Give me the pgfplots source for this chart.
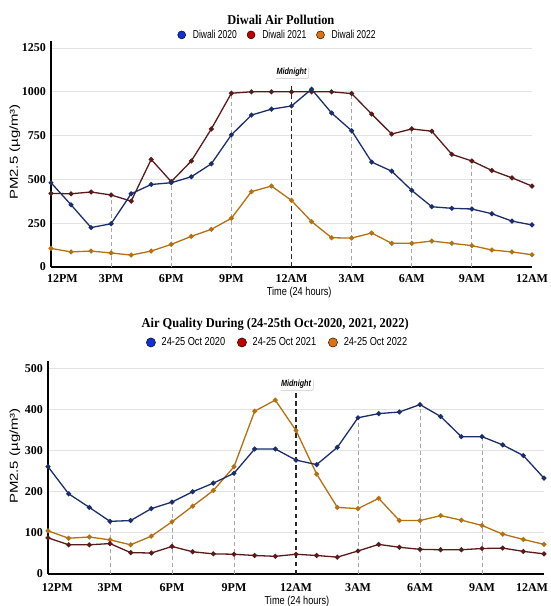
\documentclass[border=0pt]{standalone}
\usepackage{pgfplots}
\pgfplotsset{compat=1.18}
\usepackage{fontspec}
\usetikzlibrary{shadows}
\setmainfont{Liberation Serif}
\newfontfamily\titfont{Liberation Serif}[FakeStretch=0.92]
\newfontfamily\legfont{Liberation Sans}[FakeStretch=0.74]
\newfontfamily\legfontb{Liberation Sans}[FakeStretch=0.8]
\newfontfamily\ylfont{Liberation Sans}[FakeStretch=1.3]
\newfontfamily\xlfont{Liberation Sans}[FakeStretch=0.8]
\newfontfamily\midfont{Liberation Sans}[FakeStretch=0.8]

\definecolor{c20}{HTML}{1C2D6B}
\definecolor{c21}{HTML}{5B1A1A}
\definecolor{c22}{HTML}{B5700F}
\definecolor{l20}{HTML}{1030D0}
\definecolor{l21}{HTML}{C00000}
\definecolor{l22}{HTML}{E07010}
\definecolor{gridc}{HTML}{E3E3E3}
\definecolor{dropc}{HTML}{A8A8A8}

\tikzset{
  midbox/.style={fill=white, rounded corners=1.5pt, inner sep=2pt,
    drop shadow={opacity=0.35, shadow xshift=0.6pt, shadow yshift=-0.6pt},
    font=\midfont\fontsize{9}{9}\selectfont\bfseries\itshape},
}
\pgfplotsset{
  common/.style={
    scale only axis,
    xmin=0, xmax=24, ymin=0,
    axis lines*=left,
    axis line style={line width=1.6pt, black},
    ymajorgrids,
    grid style={gridc, line width=0.9pt},
    major tick length=0pt,
    xtick={0,3,...,24},
    tick label style={font=\fontsize{12}{12}\selectfont\bfseries},
    /pgf/number format/assume math mode=true,
    /pgf/number format/1000 sep={},
    yticklabel style={xshift=-1.5pt},
    clip=false,
    legend columns=3,
    xlabel={Time (24 hours)},
    ylabel={PM2.5 (µg/m³)},
    xlabel style={font=\xlfont\fontsize{11.5}{11.5}\selectfont, anchor=center},
    ylabel style={font=\ylfont\fontsize{11.5}{11.5}\selectfont, anchor=center},
  },
  ser/.style={line width=1.3pt, mark=*, mark size=1.8pt, color=#1, forget plot},
  drop/.style={ycomb, dropc, line width=0.8pt, dash pattern=on 4pt off 3pt, mark=none, forget plot},
  mid/.style={ycomb, black!85, line width=1.3pt, dash pattern=on 4.5pt off 3.5pt, mark=none, forget plot},
}

\begin{document}
\begin{tikzpicture}
\useasboundingbox (0pt,0pt) rectangle (550pt,606pt);

% ---------------- Top chart ----------------
\begin{axis}[common,
  at={(51pt,339pt)}, anchor=south west,
  width=481pt, height=226pt,
  ymax=1290,
  ytick={0,250,...,1250},
  xticklabels={\makebox[0pt][l]{\hspace*{-4pt}12PM},3PM,6PM,9PM,12AM,3AM,6AM,9AM,12AM},
  xticklabel style={yshift=-4pt},
  title={Diwali Air Pollution},
  title style={at={(axis description cs:0.478,1.068)}, anchor=center, yshift=0pt,
    font=\titfont\fontsize{13.5}{13.5}\selectfont\bfseries},
  xlabel style={at={(axis description cs:0.516,-0.113)}},
  ylabel style={at={(axis description cs:-0.075,0.509)}},
  legend style={at={(axis description cs:0.47,1.027)}, anchor=center, draw=none, fill=none,
    font=\legfont\fontsize{11.5}{11.5}\selectfont, inner sep=0pt,
    nodes={inner sep=1pt},
    /tikz/every odd column/.append style={column sep=6pt},
    /tikz/every even column/.append style={column sep=9pt}},
  legend image code/.code={\fill[#1] (0pt,0pt) circle (4pt);},
]
\addplot[drop] coordinates {(3,411) (6,487) (9,992) (15,990) (18,788) (21,605)};
\addplot[mid] coordinates {(12,1050)};
\node[midbox] at (axis cs:12,1113) {Midnight};

\addplot[ser=c22] coordinates {
(0,106) (1,86) (2,91) (3,80) (4,68) (5,91) (6,129) (7,175) (8,215) (9,278) (10,430) (11,462) (12,380)
(13,259) (14,167) (15,165) (16,194) (17,135) (18,135) (19,148) (20,135) (21,122) (22,97) (23,86) (24,70)};
\addplot[ser=c21] coordinates {
(0,420) (1,418) (2,428) (3,411) (4,376) (5,614) (6,487) (7,605) (8,788) (9,992) (10,1000) (11,1000) (12,1000)
(13,1000) (14,1000) (15,990) (16,873) (17,759) (18,788) (19,775) (20,643) (21,605) (22,551) (23,509) (24,462)};
\addplot[ser=c20] coordinates {
(0,481) (1,355) (2,225) (3,247) (4,418) (5,471) (6,481) (7,515) (8,589) (9,754) (10,867) (11,901) (12,919)
(13,1015) (14,879) (15,778) (16,599) (17,547) (18,437) (19,344) (20,335) (21,331) (22,304) (23,262) (24,240)};

\addlegendimage{fill=l20}\addlegendentry{Diwali 2020}
\addlegendimage{fill=l21}\addlegendentry{Diwali 2021}
\addlegendimage{fill=l22}\addlegendentry{Diwali 2022}
\end{axis}

% ---------------- Bottom chart ----------------
\begin{axis}[common,
  at={(48pt,32pt)}, anchor=south west,
  width=496pt, height=213pt,
  ymax=518,
  ytick={0,100,...,500},
  xticklabels={\makebox[0pt][l]{\hspace*{-6pt}12PM},3PM,6PM,9PM,12AM,3AM,6AM,9AM,\makebox[0pt][r]{12AM\hspace*{-4pt}}},
  xticklabel style={yshift=-6pt},
  title={Air Quality During (24-25th Oct-2020, 2021, 2022)},
  title style={at={(axis description cs:0.458,1.146)}, anchor=center, yshift=0pt,
    font=\titfont\fontsize{13.5}{13.5}\selectfont\bfseries},
  xlabel style={at={(axis description cs:0.502,-0.1285)}},
  ylabel style={at={(axis description cs:-0.0665,0.554)}},
  legend style={at={(axis description cs:0.462,1.087)}, anchor=center, draw=none, fill=none,
    font=\legfontb\fontsize{11.5}{11.5}\selectfont, inner sep=0pt,
    nodes={inner sep=1pt},
    /tikz/every odd column/.append style={column sep=5pt},
    /tikz/every even column/.append style={column sep=11pt}},
  legend image code/.code={\fill[#1] (0pt,0pt) circle (4.6pt);},
]
\addplot[drop] coordinates {(3,128) (6,175) (9,261) (15,380) (18,412) (21,334)};
\addplot[mid] coordinates {(12,440)};
\node[midbox] at (axis cs:12,462) {Midnight};

\addplot[ser=c22] coordinates {
(0,105) (1,87) (2,90) (3,83) (4,71) (5,92) (6,127) (7,165) (8,203) (9,261) (10,396) (11,423) (12,349)
(13,243) (14,162) (15,159) (16,184) (17,130) (18,130) (19,142) (20,131) (21,118) (22,97) (23,84) (24,72)};
\addplot[ser=c21] coordinates {
(0,88) (1,71) (2,71) (3,74) (4,52) (5,51) (6,67) (7,54) (8,49) (9,48) (10,45) (11,43) (12,48)
(13,45) (14,41) (15,56) (16,72) (17,65) (18,60) (19,59) (20,59) (21,62) (22,63) (23,55) (24,49)};
\addplot[ser=c20] coordinates {
(0,261) (1,195) (2,162) (3,128) (4,130) (5,159) (6,175) (7,200) (8,221) (9,245) (10,304) (11,304) (12,277)
(13,266) (14,308) (15,380) (16,390) (17,394) (18,412) (19,383) (20,334) (21,334) (22,314) (23,288) (24,233)};

\addlegendimage{fill=l20}\addlegendentry{24-25 Oct 2020}
\addlegendimage{fill=l21}\addlegendentry{24-25 Oct 2021}
\addlegendimage{fill=l22}\addlegendentry{24-25 Oct 2022}
\end{axis}
\end{tikzpicture}
\end{document}
